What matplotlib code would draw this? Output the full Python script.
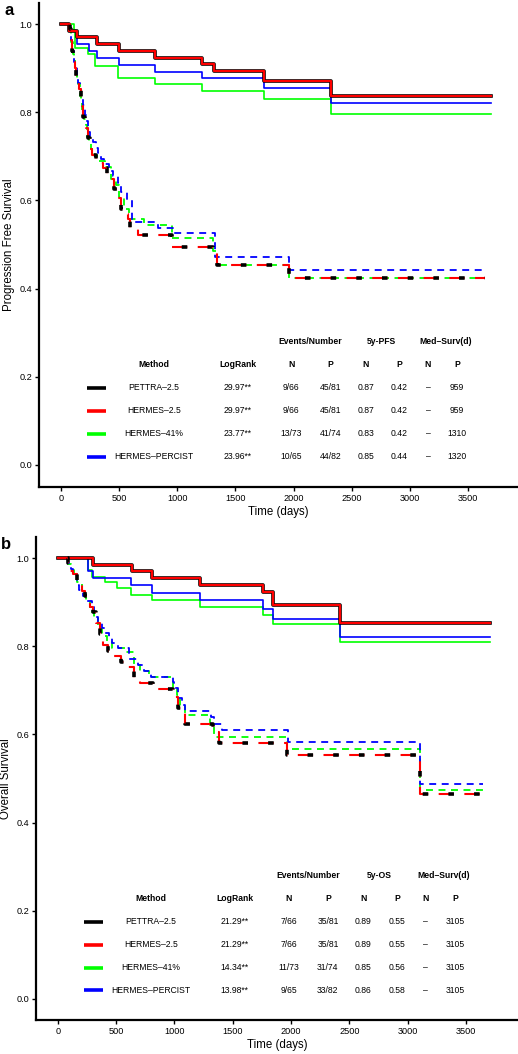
import matplotlib
matplotlib.use("Agg")
import matplotlib.pyplot as plt

plt.rcParams['font.family'] = ['Liberation Sans', 'DejaVu Sans']
plt.rcParams['lines.scale_dashes'] = False

# ---- table data ----
methods = ["PETTRA\u20132.5", "HERMES\u20132.5", "HERMES\u201341%", "HERMES\u2013PERCIST"]
colors = ["#000000", "#FF0000", "#00FF00", "#0000FF"]

pfs_logrank = ["29.97**", "29.97**", "23.77**", "23.96**"]
pfs_events_n = ["9/66", "9/66", "13/73", "10/65"]
pfs_events_p = ["45/81", "45/81", "41/74", "44/82"]
pfs_5y_n = ["0.87", "0.87", "0.83", "0.85"]
pfs_5y_p = ["0.42", "0.42", "0.42", "0.44"]
pfs_med_n = ["\u2013", "\u2013", "\u2013", "\u2013"]
pfs_med_p = ["959", "959", "1310", "1320"]

os_logrank = ["21.29**", "21.29**", "14.34**", "13.98**"]
os_events_n = ["7/66", "7/66", "11/73", "9/65"]
os_events_p = ["35/81", "35/81", "31/74", "33/82"]
os_5y_n = ["0.89", "0.89", "0.85", "0.86"]
os_5y_p = ["0.55", "0.55", "0.56", "0.58"]
os_med_n = ["\u2013", "\u2013", "\u2013", "\u2013"]
os_med_p = ["3105", "3105", "3105", "3105"]

# ---- PFS curves (days, survival) ; N = solid, P = dashed ----
pfs_pettra_n_t = [0, 70, 140, 307, 502, 808, 1215, 1318, 1748, 2319, 3695]
pfs_pettra_n_s = [1.0, 0.985, 0.970, 0.955, 0.939, 0.924, 0.909, 0.894, 0.872, 0.837, 0.837]
pfs_h25_n_t = pfs_pettra_n_t
pfs_h25_n_s = pfs_pettra_n_s
pfs_h41_n_t = [0, 112, 122, 235, 295, 493, 808, 1215, 1748, 2319, 3695]
pfs_h41_n_s = [1.0, 0.986, 0.945, 0.932, 0.904, 0.877, 0.863, 0.849, 0.829, 0.797, 0.797]
pfs_perc_n_t = [0, 65, 137, 240, 307, 495, 808, 1215, 1748, 2319, 3695]
pfs_perc_n_s = [1.0, 0.985, 0.954, 0.938, 0.923, 0.908, 0.892, 0.877, 0.856, 0.822, 0.822]

pfs_pettra_p_t = [0, 75, 86, 96, 106, 118, 130, 143, 156, 168, 178, 192, 205, 215, 230, 249,
                  270, 300, 364, 400, 421, 460, 493, 515, 536, 573, 593, 665, 952, 1310, 1339,
                  1963, 3645]
pfs_pettra_p_s = [1.0, 0.988, 0.963, 0.938, 0.914, 0.901, 0.877, 0.864, 0.852, 0.827, 0.815,
                  0.790, 0.778, 0.765, 0.741, 0.716, 0.704, 0.686, 0.674, 0.661, 0.649, 0.625,
                  0.605, 0.580, 0.570, 0.558, 0.536, 0.521, 0.495, 0.480, 0.453, 0.424, 0.424]
pfs_h25_p_t = pfs_pettra_p_t
pfs_h25_p_s = pfs_pettra_p_s
pfs_h41_p_t = [0, 78, 90, 100, 110, 122, 135, 148, 160, 172, 185, 198, 212, 225, 240, 255, 280,
               310, 378, 432, 470, 500, 540, 587, 710, 952, 1310, 1339, 1963, 3645]
pfs_h41_p_s = [1.0, 0.986, 0.959, 0.932, 0.919, 0.892, 0.878, 0.865, 0.838, 0.824, 0.797, 0.784,
               0.770, 0.743, 0.730, 0.716, 0.703, 0.689, 0.676, 0.649, 0.635, 0.608, 0.581,
               0.557, 0.545, 0.515, 0.486, 0.453, 0.424, 0.424]
pfs_perc_p_t = [0, 78, 88, 98, 110, 122, 135, 148, 162, 175, 190, 205, 218, 232, 250, 275, 300,
                321, 345, 372, 410, 450, 493, 520, 570, 610, 837, 965, 1325, 1963, 3630]
pfs_perc_p_s = [1.0, 0.988, 0.963, 0.939, 0.915, 0.902, 0.878, 0.866, 0.854, 0.829, 0.817,
                0.793, 0.780, 0.756, 0.744, 0.732, 0.720, 0.707, 0.695, 0.683, 0.667, 0.655,
                0.640, 0.620, 0.600, 0.552, 0.537, 0.526, 0.472, 0.443, 0.443]

# ---- OS curves ----
os_pettra_n_t = [0, 305, 635, 811, 1220, 1763, 1849, 2421, 3707]
os_pettra_n_s = [1.0, 0.985, 0.970, 0.955, 0.939, 0.923, 0.894, 0.853, 0.853]
os_h25_n_t = os_pettra_n_t
os_h25_n_s = os_pettra_n_s
os_h41_n_t = [0, 263, 290, 405, 511, 630, 811, 1220, 1763, 1849, 2421, 3707]
os_h41_n_s = [1.0, 0.973, 0.958, 0.946, 0.932, 0.917, 0.905, 0.889, 0.871, 0.850, 0.810, 0.810]
os_perc_n_t = [0, 263, 305, 630, 811, 1220, 1763, 1849, 2421, 3707]
os_perc_n_s = [1.0, 0.970, 0.954, 0.938, 0.920, 0.905, 0.885, 0.862, 0.822, 0.822]

os_pettra_p_t = [0, 88, 105, 135, 163, 206, 235, 277, 305, 326, 360, 391, 430, 477, 540, 591,
                 650, 706, 820, 991, 1030, 1063, 1092, 1332, 1384, 1964, 3107, 3630]
os_pettra_p_s = [1.0, 0.988, 0.970, 0.963, 0.951, 0.926, 0.914, 0.889, 0.877, 0.852, 0.827,
                 0.803, 0.790, 0.778, 0.765, 0.753, 0.728, 0.716, 0.703, 0.685, 0.660, 0.648,
                 0.624, 0.605, 0.581, 0.553, 0.464, 0.464]
os_h25_p_t = os_pettra_p_t
os_h25_p_s = os_pettra_p_s
os_h41_p_t = [0, 90, 110, 140, 165, 210, 240, 280, 310, 348, 380, 420, 463, 577, 650, 706, 780,
              990, 1020, 1050, 1092, 1306, 1340, 1964, 3107, 3650]
os_h41_p_s = [1.0, 0.986, 0.973, 0.959, 0.946, 0.919, 0.905, 0.878, 0.865, 0.838, 0.824, 0.811,
              0.797, 0.786, 0.757, 0.743, 0.730, 0.703, 0.689, 0.662, 0.645, 0.622, 0.595,
              0.566, 0.474, 0.474]
os_perc_p_t = [0, 85, 110, 130, 165, 185, 215, 250, 295, 310, 325, 348, 380, 403, 440, 463, 520,
               610, 690, 740, 800, 985, 1000, 1030, 1065, 1092, 1310, 1340, 1406, 1978, 3107,
               3650]
os_perc_p_s = [1.0, 0.988, 0.976, 0.963, 0.939, 0.927, 0.915, 0.902, 0.890, 0.878, 0.866,
               0.854, 0.841, 0.831, 0.819, 0.807, 0.795, 0.771, 0.758, 0.744, 0.730, 0.718,
               0.706, 0.682, 0.667, 0.654, 0.640, 0.624, 0.611, 0.583, 0.487, 0.487]

x_ticks = [0, 500, 1000, 1500, 2000, 2500, 3000, 3500]
y_ticks = [0.0, 0.2, 0.4, 0.6, 0.8, 1.0]

# table layout (data coords)
COL_X = {'method': 800, 'logrank': 1518, 'evn': 1980, 'evp': 2316, '5yn': 2621,
         '5yp': 2908, 'medn': 3155, 'medp': 3407}
GROUP_X = [2146, 2755, 3308]
ROW_Y = [0.175, 0.123, 0.071, 0.019]
HEAD_Y = 0.227
GROUP_Y = 0.279
KEY_X = (225, 388)
FS = 6.2


def draw_curves(ax, n_curves, p_curves):
    # solid (N) curves: thin green/blue, thick black with red on top
    (bt, bs), (rt, rs), (gt, gs), (ut, us) = n_curves
    ax.step(gt, gs, where='post', color=colors[2], lw=1.2, zorder=3)
    ax.step(ut, us, where='post', color=colors[3], lw=1.2, zorder=3)
    ax.step(bt, bs, where='post', color=colors[0], lw=2.6, zorder=4)
    ax.step(rt, rs, where='post', color=colors[1], lw=1.6, zorder=5)
    # dashed (P) curves
    (bt, bs), (rt, rs), (gt, gs), (ut, us) = p_curves
    ax.step(gt, gs, where='post', color=colors[2], lw=1.3, linestyle=(0, (5, 4)), zorder=3)
    ax.step(ut, us, where='post', color=colors[3], lw=1.3, linestyle=(2, (5, 4)), zorder=3)
    ax.step(rt, rs, where='post', color=colors[1], lw=1.5, linestyle=(0, (11, 7.5)), zorder=4)
    ax.step(bt, bs, where='post', color=colors[0], lw=2.6, linestyle=(-7, (4, 14.5)), zorder=5)


def draw_table(ax, surv_label, cols):
    kw = dict(ha='center', va='center', fontsize=FS, color='black', zorder=6)
    for x, lab in zip(GROUP_X, ["Events/Number", surv_label, "Med\u2013Surv(d)"]):
        ax.text(x, GROUP_Y, lab, fontweight='bold', **kw)
    heads = [("method", "Method"), ("logrank", "LogRank"), ("evn", "N"), ("evp", "P"),
             ("5yn", "N"), ("5yp", "P"), ("medn", "N"), ("medp", "P")]
    for key, lab in heads:
        ax.text(COL_X[key], HEAD_Y, lab, fontweight='bold', **kw)
    keys = ['method', 'logrank', 'evn', 'evp', '5yn', '5yp', 'medn', 'medp']
    for i, y in enumerate(ROW_Y):
        ax.plot(KEY_X, [y, y], color=colors[i], lw=2.6, solid_capstyle='butt', zorder=6)
        for key, col in zip(keys, cols):
            ax.text(COL_X[key], y, col[i], **kw)


def style_axes(ax, xlim, ylim, ylabel, letter):
    ax.set_xlim(*xlim)
    ax.set_ylim(*ylim)
    ax.set_xticks(x_ticks)
    ax.set_xticklabels([str(t) for t in x_ticks])
    ax.set_yticks(y_ticks)
    ax.set_yticklabels([f"{v:.1f}" for v in y_ticks])
    for s in ['top', 'right']:
        ax.spines[s].set_visible(False)
    for s in ['left', 'bottom']:
        ax.spines[s].set_linewidth(1.6)
    ax.tick_params(direction='out', length=3, width=1, labelsize=6.6, pad=2)
    ax.set_xlabel("Time (days)", fontsize=8.3, labelpad=2)
    ax.set_ylabel(ylabel, fontsize=8.3, labelpad=3)
    ax.text(-0.072, 1.0, letter, transform=ax.transAxes, fontsize=12, fontweight='bold',
            ha='left', va='top')


fig = plt.figure(figsize=(5.18, 10.54), dpi=100)

ax_a = fig.add_axes([0.0753, 0.5380, 0.9247, 0.4592])
draw_curves(ax_a,
            [(pfs_pettra_n_t, pfs_pettra_n_s), (pfs_h25_n_t, pfs_h25_n_s),
             (pfs_h41_n_t, pfs_h41_n_s), (pfs_perc_n_t, pfs_perc_n_s)],
            [(pfs_pettra_p_t, pfs_pettra_p_s), (pfs_h25_p_t, pfs_h25_p_s),
             (pfs_h41_p_t, pfs_h41_p_s), (pfs_perc_p_t, pfs_perc_p_s)])
draw_table(ax_a, "5y-PFS", [methods, pfs_logrank, pfs_events_n, pfs_events_p,
                            pfs_5y_n, pfs_5y_p, pfs_med_n, pfs_med_p])
style_axes(ax_a, (-189, 3930), (-0.05, 1.048), "Progression Free Survival", "a")

ax_b = fig.add_axes([0.0695, 0.0323, 0.9305, 0.4583])
draw_curves(ax_b,
            [(os_pettra_n_t, os_pettra_n_s), (os_h25_n_t, os_h25_n_s),
             (os_h41_n_t, os_h41_n_s), (os_perc_n_t, os_perc_n_s)],
            [(os_pettra_p_t, os_pettra_p_s), (os_h25_p_t, os_h25_p_s),
             (os_h41_p_t, os_h41_p_s), (os_perc_p_t, os_perc_p_s)])
draw_table(ax_b, "5y-OS", [methods, os_logrank, os_events_n, os_events_p,
                           os_5y_n, os_5y_p, os_med_n, os_med_p])
style_axes(ax_b, (-186, 3946), (-0.048, 1.048), "Overall Survival", "b")

fig.savefig("out.png", dpi=100, facecolor='white')
